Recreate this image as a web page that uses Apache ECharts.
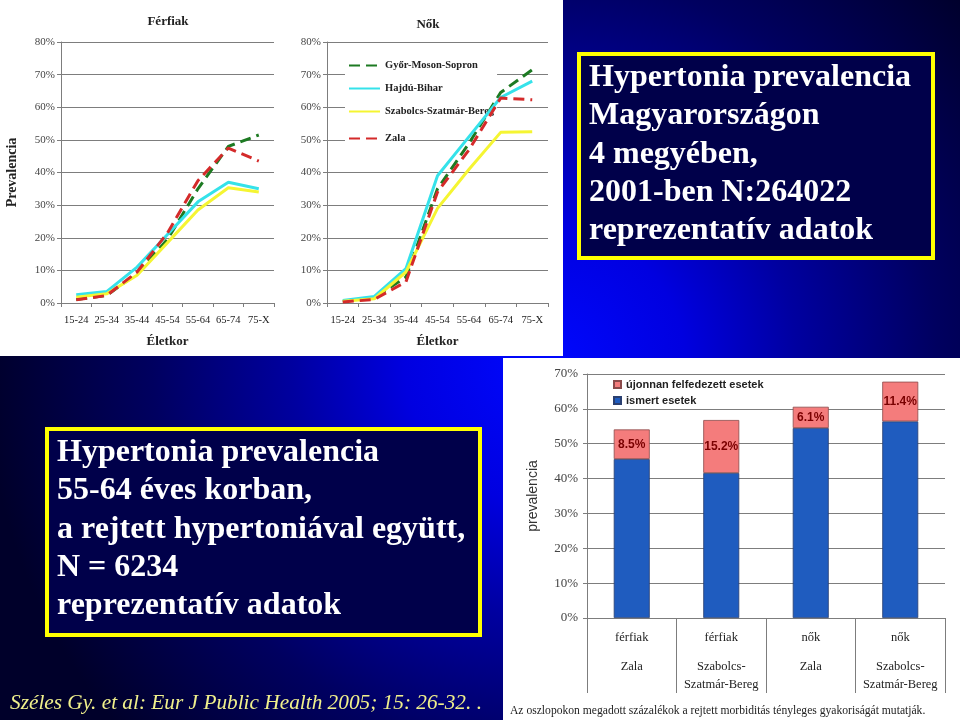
<!DOCTYPE html>
<html>
<head>
<meta charset="utf-8">
<script src="https://cdn.jsdelivr.net/npm/echarts@6/dist/echarts.min.js"></script>
<style>
html, body { margin: 0; padding: 0; background: #000040; }
#main { width: 960px; height: 720px; }
</style>
</head>
<body>
<div id="main"></div>
<script>
// age groups and counties (line charts)
const ageGroups = ['15-24', '25-34', '35-44', '45-54', '55-64', '65-74', '75-X']
const counties = ['Győr-Moson-Sopron', 'Hajdú-Bihar', 'Szabolcs-Szatmár-Bereg', 'Zala']

// Férfiak, prevalence in %
const menGyor = [1.1, 2.3, 9, 19.5, 35, 48, 51.5]
const menHajdu = [2.5, 3.5, 11, 21, 31, 37, 35]
const menSzabolcs = [1.8, 2.8, 8.5, 18.5, 28.5, 35.3, 34]
const menZala = [1, 2.3, 9.5, 21.5, 37.5, 47.5, 43.5]

// Nők, prevalence in %
const womenGyor = [0.5, 1.5, 8, 35, 49, 64.5, 71.5]
const womenHajdu = [0.8, 2, 10.5, 39, 51, 63, 68]
const womenSzabolcs = [0.5, 1.3, 9.5, 29, 41, 52.3, 52.5]
const womenZala = [0.3, 1.1, 6.5, 34, 47, 62.8, 62.3]

// bar chart, 55-64 age group
const barSex = ['férfiak', 'férfiak', 'nők', 'nők']
const barCounty = ['Zala', 'Szabolcs-\nSzatmár-Bereg', 'Zala', 'Szabolcs-\nSzatmár-Bereg']
const knownCases = [45.6, 41.6, 54.5, 56.4]
const newCases = [8.5, 15.2, 6.1, 11.4]

const barCategories = barSex.map((s, i) => s + '\n' + barCounty[i])

const serif = 'Liberation Serif'
const sans = 'Liberation Sans'
const countyColors = ['#1d7a22', '#35e2ea', '#f5f532', '#d42a2a']
const countyDashed = [true, false, false, true]
const gridGray = '#7d7d7d'

function countyLine(i, data, axis) {
  return {
    name: counties[i],
    type: 'line',
    data: data,
    xAxisIndex: axis,
    yAxisIndex: axis,
    symbol: 'none',
    color: countyColors[i],
    lineStyle: {
      width: 3,
      color: countyColors[i],
      type: countyDashed[i] ? [11, 6] : 'solid',
    },
    emphasis: { disabled: true },
  }
}

function ageAxis(idx) {
  return {
    gridIndex: idx,
    type: 'category',
    data: ageGroups,
    name: 'Életkor',
    nameLocation: 'middle',
    nameGap: 32,
    nameTextStyle: { fontFamily: serif, fontWeight: 'bold', fontSize: 13, color: '#222' },
    axisLine: { show: true, lineStyle: { color: gridGray } },
    axisTick: { show: true, length: 4, lineStyle: { color: gridGray } },
    axisLabel: { margin: 12, fontFamily: serif, fontSize: 10.5, color: '#222', interval: 0 },
    splitLine: { show: false },
  }
}

function pctAxis(idx, max, extra) {
  return Object.assign({
    gridIndex: idx,
    type: 'value',
    min: 0,
    max: max,
    interval: 10,
    axisLine: { show: true, lineStyle: { color: gridGray } },
    axisTick: { show: true, length: 4, lineStyle: { color: gridGray } },
    axisLabel: { formatter: '{value}%', margin: 6, fontFamily: serif, fontSize: 11, color: '#444' },
    splitLine: { show: true, lineStyle: { color: gridGray, width: 1 } },
  }, extra || {})
}

const lineLegend = {
  orient: 'vertical',
  left: 345,
  itemWidth: 31,
  itemHeight: 10,
  itemGap: 12,
  backgroundColor: '#fff',
  padding: [3, 3, 3, 3],
  z: 1,
  itemStyle: { opacity: 0, borderWidth: 0 },
  textStyle: { fontFamily: serif, fontWeight: 'bold', fontSize: 10.5, color: '#222' },
}

const chart = echarts.init(document.getElementById('main'))

const option = {
  animation: false,
  grid: [
    { left: 61, top: 42, width: 213, height: 261, outerBoundsMode: 'none' },
    { left: 327, top: 42, width: 221, height: 261, outerBoundsMode: 'none' },
    { left: 587, top: 374, width: 358, height: 244, outerBoundsMode: 'none' },
  ],
  xAxis: [
    ageAxis(0),
    ageAxis(1),
    {
      gridIndex: 2,
      type: 'category',
      data: barCategories,
      axisLine: { show: true, lineStyle: { color: gridGray } },
      axisTick: { show: true, length: 75, lineStyle: { color: gridGray } },
      axisLabel: {
        margin: 0,
        interval: 0,
        formatter: function (v) {
          const parts = v.split('\n')
          return parts.map((p, k) => (k === 0 ? '{a|' + p + '}' : '{b|' + p + '}')).join('\n')
        },
        rich: {
          a: { fontFamily: serif, fontSize: 12.5, color: '#222', lineHeight: 40 },
          b: { fontFamily: serif, fontSize: 12.5, color: '#222', lineHeight: 18 },
        },
      },
    },
  ],
  yAxis: [
    pctAxis(0, 80, {
      name: 'Prevalencia',
      nameLocation: 'middle',
      nameGap: 42,
      nameTextStyle: { fontFamily: serif, fontWeight: 'bold', fontSize: 14, color: '#222' },
    }),
    pctAxis(1, 80),
    pctAxis(2, 70, {
      name: 'prevalencia',
      nameLocation: 'middle',
      nameGap: 47,
      nameTextStyle: { fontFamily: sans, fontSize: 14, color: '#333' },
      axisLabel: { formatter: '{value}%', margin: 9, fontFamily: serif, fontSize: 13, color: '#444' },
    }),
  ],
  legend: [
    Object.assign({}, lineLegend, { data: counties.slice(0, 3), top: 57 }),
    Object.assign({}, lineLegend, { data: ['Zala'], top: 130 }),
    {
      data: ['újonnan felfedezett esetek', 'ismert esetek'],
      orient: 'vertical',
      left: 611,
      top: 377,
      icon: 'rect',
      itemWidth: 7,
      itemHeight: 7,
      itemGap: 5,
      backgroundColor: '#fff',
      padding: [2, 4, 2, 2],
      textStyle: { fontFamily: sans, fontWeight: 'bold', fontSize: 11, color: '#222' },
    },
  ],
  series: [
    countyLine(0, menGyor, 0),
    countyLine(1, menHajdu, 0),
    countyLine(2, menSzabolcs, 0),
    countyLine(3, menZala, 0),
    countyLine(0, womenGyor, 1),
    countyLine(1, womenHajdu, 1),
    countyLine(2, womenSzabolcs, 1),
    countyLine(3, womenZala, 1),
    {
      name: 'ismert esetek',
      type: 'bar',
      stack: 'prev',
      data: knownCases,
      xAxisIndex: 2,
      yAxisIndex: 2,
      barWidth: 36,
      itemStyle: { color: '#1f5cbf', borderColor: '#2a3f70', borderWidth: 0.8 },
      emphasis: { disabled: true },
    },
    {
      name: 'újonnan felfedezett esetek',
      type: 'bar',
      stack: 'prev',
      data: newCases,
      xAxisIndex: 2,
      yAxisIndex: 2,
      barWidth: 36,
      itemStyle: { color: '#f47c7c', borderColor: '#8a4a4a', borderWidth: 0.8 },
      label: {
        show: true,
        position: 'inside',
        formatter: (p) => p.value + '%',
        fontFamily: sans,
        fontWeight: 'bold',
        fontSize: 12,
        color: '#7a0000',
      },
      emphasis: { disabled: true },
    },
  ],
  graphic: {
    elements: [],
  },
}

// slide background, white chart panels, text boxes
const els = option.graphic.elements
els.push({
  type: 'rect', z: -20, silent: true,
  shape: { x: 0, y: 0, width: 960, height: 720 },
  style: {
    fill: new echarts.graphic.RadialGradient(545, 365, 560, [
      { offset: 0, color: '#0008ff' },
      { offset: 0.25, color: '#0000e0' },
      { offset: 0.45, color: '#0000a0' },
      { offset: 0.7, color: '#000060' },
      { offset: 1, color: '#00002a' },
    ], true),
  },
})
els.push({ type: 'rect', z: -10, silent: true, shape: { x: 0, y: 0, width: 563, height: 356 }, style: { fill: '#fff' } })
els.push({ type: 'rect', z: -10, silent: true, shape: { x: 503, y: 358, width: 457, height: 362 }, style: { fill: '#fff' } })

function textBox(x, y, w, h, lines, firstMid) {
  els.push({
    type: 'rect', z: 5, silent: true,
    shape: { x: x, y: y, width: w, height: h },
    style: { fill: '#00004a', stroke: '#ffff00', lineWidth: 4 },
  })
  lines.forEach((t, k) => {
    els.push({
      type: 'text', z: 6, silent: true,
      x: x + 10, y: firstMid + k * 38.2,
      style: {
        text: t, fill: '#fff',
        fontFamily: serif, fontWeight: 'bold', fontSize: 32,
        align: 'left', verticalAlign: 'middle',
        textAlign: 'left', textVerticalAlign: 'middle',
      },
    })
  })
}
textBox(579, 54, 354, 204, ['Hypertonia prevalencia', 'Magyarországon', '4 megyében,', '2001-ben N:264022', 'reprezentatív adatok'], 78)
textBox(47, 429, 433, 206, ['Hypertonia prevalencia', '55-64 éves korban,', 'a rejtett hypertoniával együtt,', 'N = 6234', 'reprezentatív adatok'], 453)

function label(x, y, t, st) {
  els.push({
    type: 'text', z: 6, silent: true, x: x, y: y,
    style: Object.assign({ text: t, align: 'center', verticalAlign: 'middle', textAlign: 'center', textVerticalAlign: 'middle' }, st),
  })
}
label(168, 22, 'Férfiak', { fill: '#222', fontFamily: serif, fontWeight: 'bold', fontSize: 13 })
label(428, 25, 'Nők', { fill: '#222', fontFamily: serif, fontWeight: 'bold', fontSize: 13 })
label(510, 711, 'Az oszlopokon megadott százalékok a rejtett morbiditás tényleges gyakoriságát mutatják.',
  { fill: '#222', fontFamily: serif, fontSize: 11.6, align: 'left', textAlign: 'left' })
label(10, 703, 'Széles Gy. et al: Eur J Public Health 2005; 15: 26-32. .',
  { fill: '#f0f08c', fontFamily: serif, fontStyle: 'italic', fontSize: 21.3, align: 'left', textAlign: 'left' })

chart.setOption(option)
</script>
</body>
</html>
